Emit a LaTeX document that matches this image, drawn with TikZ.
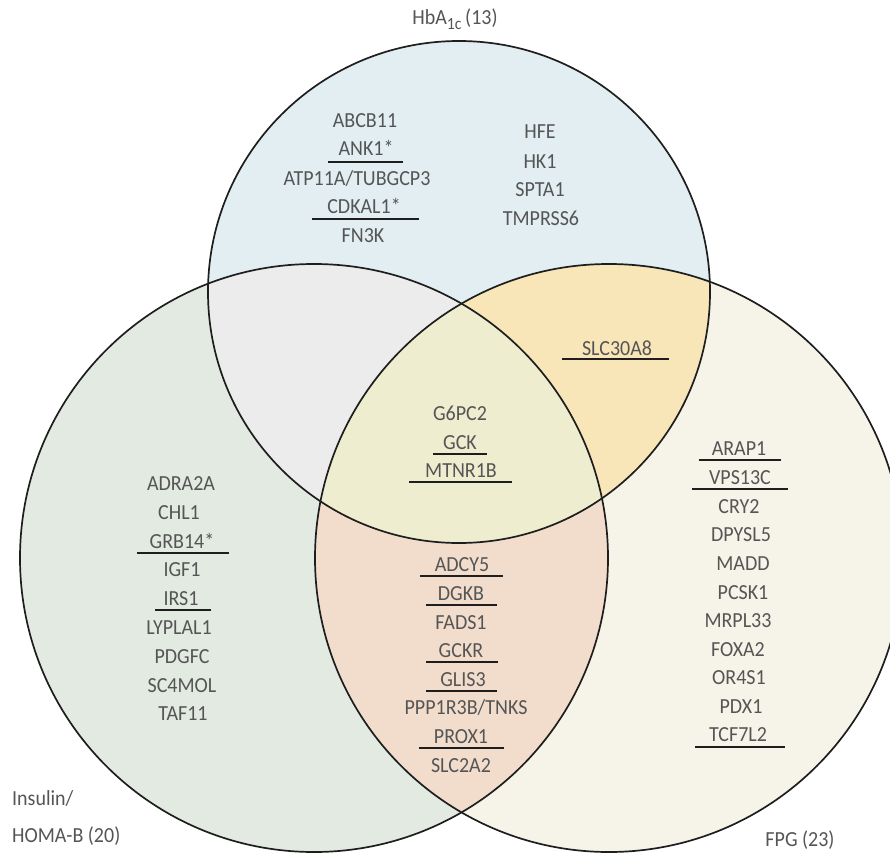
\documentclass[tikz,border=0pt]{standalone}
\usepackage{fontspec}
\setmainfont{Carlito}[FakeStretch=0.93]
\newcommand\genefont{\fontsize{21.5}{24}\selectfont}
\definecolor{txtgray}{HTML}{555555}
\definecolor{ulcol}{HTML}{1E1E1E}
\definecolor{ringcol}{HTML}{1E1E1E}
\definecolor{topcol}{HTML}{E2EEF2}
\definecolor{leftcol}{HTML}{E3EAE2}
\definecolor{rightcol}{HTML}{F6F4E8}
\definecolor{tlcol}{HTML}{ECECEC}
\definecolor{trcol}{HTML}{F8E6B8}
\definecolor{lrcol}{HTML}{F2DDCD}
\definecolor{ctrcol}{HTML}{EEEDD0}
\begin{document}
\begin{tikzpicture}[x=1pt,y=-1pt,
  gene/.style={anchor=base, inner sep=0pt, text=txtgray, font=\genefont},
  lbl/.style={anchor=base west, inner sep=0pt, text=txtgray, font=\genefont},
  uline/.style={line width=2.7pt, draw=ulcol},
  ring/.style={line width=1.7pt, draw=ringcol}]
\clip (0,0) rectangle (890,853);
\useasboundingbox (0,0) rectangle (890,853);
\coordinate (T) at (459,292);
\coordinate (L) at (314,558);
\coordinate (R) at (609,558);
% base fills
\fill[topcol] (T) circle[radius=251pt];
\fill[leftcol] (L) circle[radius=294pt];
\fill[rightcol] (R) circle[radius=294pt];
% left & right
\begin{scope}
  \clip (L) circle[radius=294pt];
  \fill[lrcol] (R) circle[radius=294pt];
\end{scope}
% top intersections
\begin{scope}
  \clip (T) circle[radius=251pt];
  \fill[tlcol] (L) circle[radius=294pt];
  \fill[trcol] (R) circle[radius=294pt];
  \clip (L) circle[radius=294pt];
  \fill[ctrcol] (R) circle[radius=294pt];
\end{scope}
% outlines
\draw[ring] (T) circle[radius=251pt];
\draw[ring] (L) circle[radius=294pt];
\draw[ring] (R) circle[radius=294pt];

% set labels
\node[gene] (hba) at (455,25) {HbA\raisebox{-0.4ex}{\fontsize{17}{17}\selectfont 1c}\,(13)};
\node[lbl] (ins) at (12,805) {Insulin/};
\node[lbl] (homa) at (12,842) {HOMA-B (20)};
\node[gene] (fpg) at (800,846) {FPG (23)};

% top only
\node[gene] (abcb11) at (365,128) {ABCB11};
\node[gene] (ank1) at (366,156) {ANK1*};
\node[gene] (atp11a) at (357,185) {ATP11A/TUBGCP3};
\node[gene] (cdkal1) at (364,213) {CDKAL1*};
\node[gene] (fn3k) at (363,242) {FN3K};
\node[gene] (hfe) at (540,139) {HFE};
\node[gene] (hk1) at (540,168) {HK1};
\node[gene] (spta1) at (540,196) {SPTA1};
\node[gene] (tmprss6) at (541,225) {TMPRSS6};
\draw[uline] (328,162) -- (403,162);
\draw[uline] (312,219) -- (419,219);

% top & right
\node[gene] (slc30a8) at (617,355) {SLC30A8};
\draw[uline] (562,359) -- (669,359);

% centre
\node[gene] (g6pc2) at (460,420) {G6PC2};
\node[gene] (gck) at (460,449) {GCK};
\node[gene] (mtnr1b) at (461,477) {MTNR1B};
\draw[uline] (433,454) -- (487,454);
\draw[uline] (409,482) -- (512,482);

% left & right
\node[gene] (adcy5) at (462,571) {ADCY5};
\node[gene] (dgkb) at (461,600) {DGKB};
\node[gene] (fads1) at (461,629) {FADS1};
\node[gene] (gckr) at (461,657) {GCKR};
\node[gene] (glis3) at (463,686) {GLIS3};
\node[gene] (ppp1r3b) at (466,714) {PPP1R3B/TNKS};
\node[gene] (prox1) at (461,743) {PROX1};
\node[gene] (slc2a2) at (461,772) {SLC2A2};
\draw[uline] (420,576) -- (503,576);
\draw[uline] (426,605) -- (497,605);
\draw[uline] (426,662) -- (498,662);
\draw[uline] (426,691) -- (497,691);
\draw[uline] (419,748) -- (504,748);

% left only
\node[gene] (adra2a) at (181,490) {ADRA2A};
\node[gene] (chl1) at (179,519) {CHL1};
\node[gene] (grb14) at (182,548) {GRB14*};
\node[gene] (igf1) at (182,576) {IGF1};
\node[gene] (irs1) at (181,605) {IRS1};
\node[gene] (lyplal1) at (179,634) {LYPLAL1};
\node[gene] (pdgfc) at (182,663) {PDGFC};
\node[gene] (sc4mol) at (182,692) {SC4MOL};
\node[gene] (taf11) at (183,720) {TAF11};
\draw[uline] (137,553) -- (229,553);
\draw[uline] (155,610) -- (211,610);

% right only
\node[gene] (arap1) at (739,455) {ARAP1};
\node[gene] (vps13c) at (740,484) {VPS13C};
\node[gene] (cry2) at (739,513) {CRY2};
\node[gene] (dpysl5) at (741,541) {DPYSL5};
\node[gene] (madd) at (743,570) {MADD};
\node[gene] (pcsk1) at (743,599) {PCSK1};
\node[gene] (mrpl33) at (738,627) {MRPL33};
\node[gene] (foxa2) at (738,656) {FOXA2};
\node[gene] (or4s1) at (739,684) {OR4S1};
\node[gene] (pdx1) at (741,713) {PDX1};
\node[gene] (tcf7l2) at (738,741) {TCF7L2};
\draw[uline] (699,460) -- (781,460);
\draw[uline] (692,489) -- (788,489);
\draw[uline] (695,747) -- (785,747);
\end{tikzpicture}
\end{document}
